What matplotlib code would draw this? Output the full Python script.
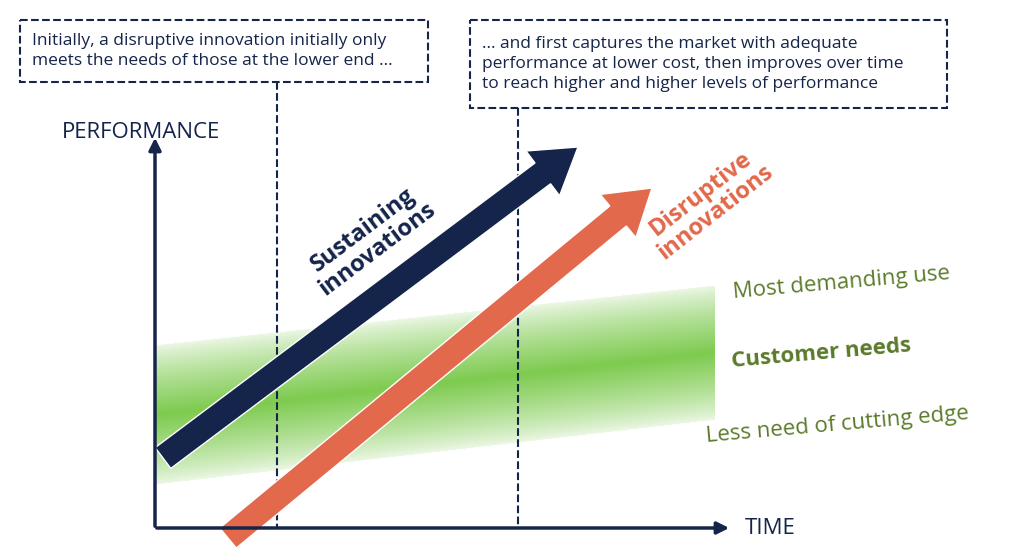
import numpy as np
import matplotlib
matplotlib.use("Agg")
import matplotlib.pyplot as plt
from matplotlib.patches import FancyArrow, Rectangle

plt.rcParams['font.family'] = ['Open Sans', 'DejaVu Sans']

NAVY = '#14244a'
ORANGE = '#e2694b'
GREEN_TXT = '#5b7b2b'

box_texts = ["Initially, a disruptive innovation initially only\nmeets the needs of those at the lower end …",
             "… and first captures the market with adequate\nperformance at lower cost, then improves over time\nto reach higher and higher levels of performance"]
band_labels = ["Most demanding use", "Customer needs", "Less need of cutting edge"]
arrow_labels = ["Sustaining\ninnovations", "Disruptive\ninnovations"]

# geometry (pixel space)
band_x = [155, 715]
band_top = [345, 285]
band_bot = [485, 420]
sust = [(163, 458), (578, 147)]
disr = [(228, 538), (652, 188)]

fig = plt.figure(figsize=(10.24, 5.51), dpi=100)
ax = fig.add_axes([0, 0, 1, 1])
ax.set_xlim(0, 1024); ax.set_ylim(551, 0); ax.axis('off')

xs = np.arange(band_x[0], band_x[1])
ys = np.arange(260, 500)
X, Y = np.meshgrid(xs, ys)
t = (X - band_x[0]) / (band_x[1] - band_x[0])
top = band_top[0] + t * (band_top[1] - band_top[0])
bot = band_bot[0] + t * (band_bot[1] - band_bot[0])
mid = (top + bot) / 2; half = (bot - top) / 2
d = np.abs(Y - mid) / half
alpha = np.clip(1 - d, 0, 1) ** 0.8 * 0.8 + np.where(d <= 1, 0.12, 0)
alpha = np.clip(alpha, 0, 1)
img = np.zeros(X.shape + (4,))
img[..., 0] = 0.45; img[..., 1] = 0.78; img[..., 2] = 0.25; img[..., 3] = alpha
ax.imshow(img, extent=(band_x[0], band_x[1], ys[-1], ys[0]), origin='upper', aspect='auto', zorder=1)

ax.plot([277, 277], [82, 528], ls='--', color=NAVY, lw=1.5, zorder=2)
ax.plot([518, 518], [108, 528], ls='--', color=NAVY, lw=1.5, zorder=2)

ax.annotate('', xy=(155, 135), xytext=(155, 529), arrowprops=dict(arrowstyle='-|>', color=NAVY, lw=2.5, mutation_scale=18), zorder=5)
ax.annotate('', xy=(732, 528), xytext=(154, 528), arrowprops=dict(arrowstyle='-|>', color=NAVY, lw=2.5, mutation_scale=18), zorder=5)
ax.text(62, 133, "PERFORMANCE", fontsize=16, color=NAVY, va='center', ha='left')
ax.text(745, 529, "TIME", fontsize=16, color=NAVY, va='center', ha='left')

for (p0, p1), col in [(disr, ORANGE), (sust, NAVY)]:
    dx, dy = p1[0] - p0[0], p1[1] - p0[1]
    ax.add_patch(FancyArrow(p0[0], p0[1], dx, dy, width=26, head_width=56, head_length=44,
                            length_includes_head=True, color=col, ec='white', lw=1, zorder=4))

ax.text(370, 240, arrow_labels[0], rotation=37, fontsize=17, fontweight='bold', color=NAVY,
        ha='center', va='center', linespacing=1.0, zorder=6)
ax.text(708, 203, arrow_labels[1], rotation=38, fontsize=17, fontweight='bold', color=ORANGE,
        ha='center', va='center', linespacing=1.0, zorder=6)

ax.text(842, 283, band_labels[0], rotation=5, fontsize=16, color=GREEN_TXT, ha='center', va='center')
ax.text(821, 354, band_labels[1], rotation=5, fontsize=16, fontweight='bold', color=GREEN_TXT, ha='center', va='center')
ax.text(837, 425, band_labels[2], rotation=5, fontsize=16, color=GREEN_TXT, ha='center', va='center')

for (x0, y0, x1, y1), txt in [((20, 20, 428, 82), box_texts[0]), ((470, 20, 947, 108), box_texts[1])]:
    ax.add_patch(Rectangle((x0, y0), x1 - x0, y1 - y0, fill=True, fc='white', ec=NAVY, ls='--', lw=1.5, zorder=3))
    ax.text(x0 + 12, (y0 + y1) / 2, txt, fontsize=12.5, color=NAVY, ha='left', va='center', linespacing=1.35, zorder=4)

fig.savefig('out.png', dpi=100)
